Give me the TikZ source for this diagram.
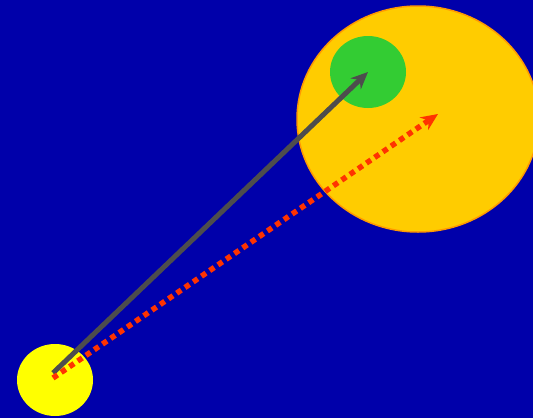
\documentclass[tikz,border=0pt]{standalone}
\usetikzlibrary{shapes.geometric,arrows.meta}
\definecolor{skyblue}{HTML}{0000AA}
\definecolor{sunyellow}{HTML}{FFFF00}
\definecolor{planetgold}{HTML}{FFCC00}
\definecolor{planetrim}{HTML}{FF9900}
\definecolor{moongreen}{HTML}{33CC33}
\definecolor{rodgray}{HTML}{4D4D4D}
\definecolor{aimred}{HTML}{FF3300}

\begin{document}
\begin{tikzpicture}[
  x=1pt, y=-1pt,
  body/.style={ellipse, inner sep=0pt},
  shot/.style={-{Stealth[length=17pt,width=15pt]}, line width=5pt, draw=rodgray},
  aim/.style={-{Stealth[length=17pt,width=15pt]}, line width=5.5pt, draw=aimred, dash pattern=on 5.5pt off 4.5pt}
]
\fill[skyblue] (0,0) rectangle (533,418);
\useasboundingbox (0,0) rectangle (533,418);
\begin{scope}
\clip (0,0) rectangle (533,418);
\node[body, fill=planetgold, draw=planetrim, line width=1.5pt, minimum width=242pt, minimum height=226pt] (planet) at (418,119) {};
\end{scope}
\node[body, fill=moongreen, minimum width=76pt, minimum height=72pt] (moon) at (368,72) {};
\node[body, fill=sunyellow, minimum width=76pt, minimum height=72pt] (ball) at (55,380) {};
\coordinate (ballA) at (53,373);
\coordinate (ballB) at (53,378);
\coordinate (target) at (438,114);
\draw[shot] (ballA) -- (moon.center);
\draw[aim] (ballB) -- (target);
\end{tikzpicture}
\end{document}
